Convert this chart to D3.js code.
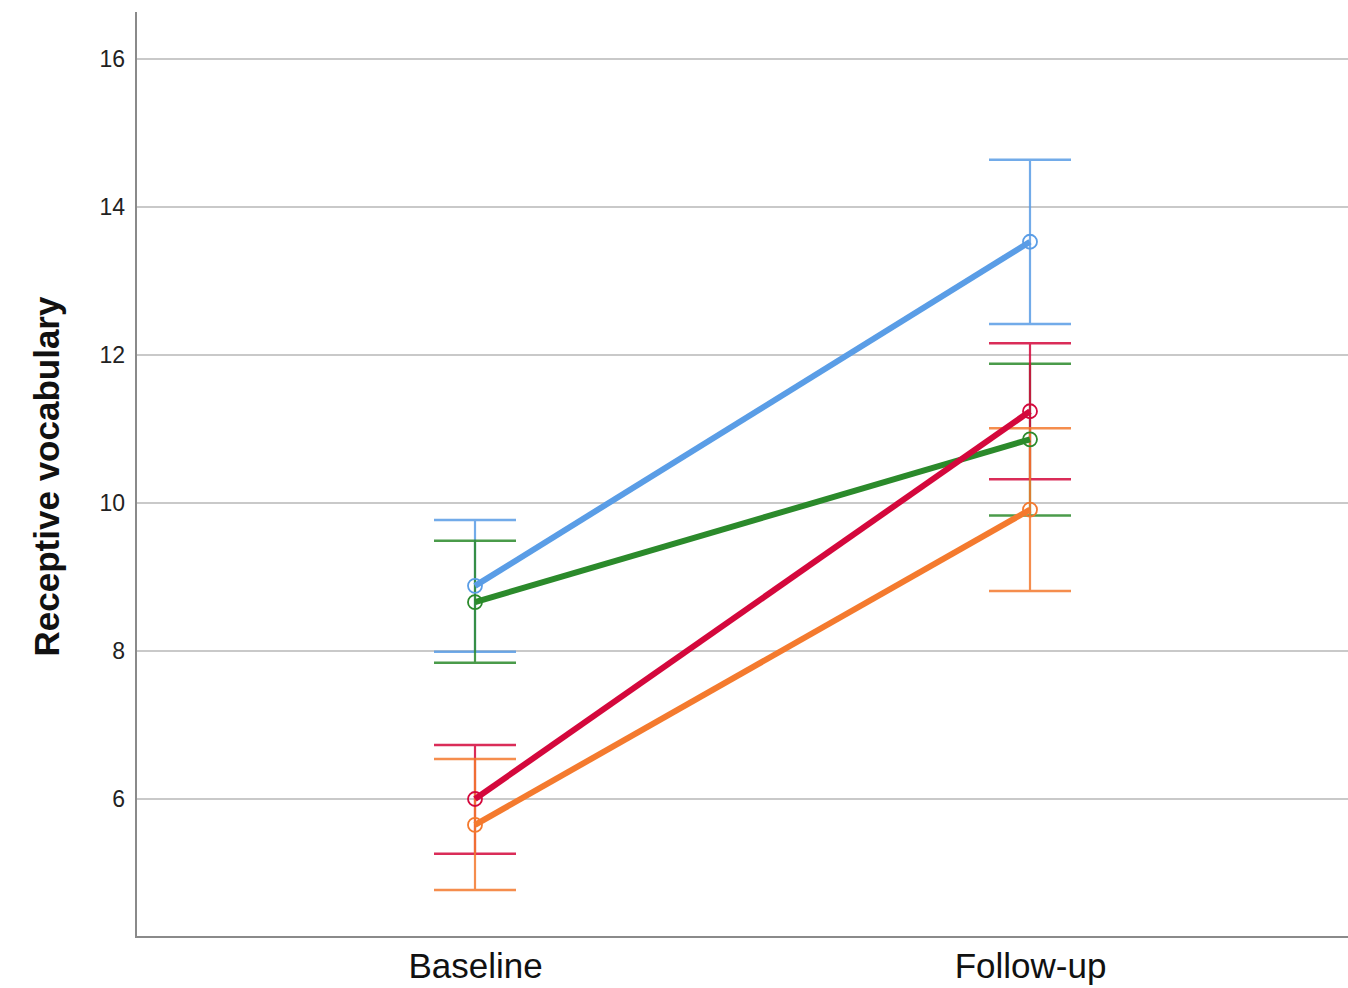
<!DOCTYPE html>
<html>
<head>
<meta charset="utf-8">
<script src="https://cdn.jsdelivr.net/npm/d3@7"></script>
<style>
  html, body { margin: 0; padding: 0; background: #fff; }
  svg { display: block; }
</style>
</head>
<body>
<svg id="chart" width="1348" height="988"></svg>
<script>
// ---- data ----
const timepoints = ["Baseline", "Follow-up"];
const yTicks = [6, 8, 10, 12, 14, 16];
const seriesNames = ["Group 1", "Group 2", "Group 3", "Group 4"];
const seriesColors = ["#5a9de6", "#2b8a2b", "#d4083c", "#f47a2e"];
// means at Baseline, Follow-up
const meanG1 = [8.88, 13.53];
const meanG2 = [8.66, 10.86];
const meanG3 = [6.00, 11.24];
const meanG4 = [5.65, 9.91];
// error bar upper / lower
const upperG1 = [9.77, 14.64];
const lowerG1 = [7.99, 12.42];
const upperG2 = [9.49, 11.88];
const lowerG2 = [7.84, 9.83];
const upperG3 = [6.73, 12.16];
const lowerG3 = [5.26, 10.32];
const upperG4 = [6.54, 11.01];
const lowerG4 = [4.77, 8.81];

const series = [
  { name: seriesNames[0], color: seriesColors[0], mean: meanG1, hi: upperG1, lo: lowerG1 },
  { name: seriesNames[1], color: seriesColors[1], mean: meanG2, hi: upperG2, lo: lowerG2 },
  { name: seriesNames[2], color: seriesColors[2], mean: meanG3, hi: upperG3, lo: lowerG3 },
  { name: seriesNames[3], color: seriesColors[3], mean: meanG4, hi: upperG4, lo: lowerG4 }
];

// ---- layout ----
const svg = d3.select("#chart");
const axisLeft = 136, axisRight = 1348, axisTop = 12, axisBottom = 937;

const y = d3.scaleLinear().domain([4.135, 16.635]).range([axisBottom, axisTop]);
const x = d3.scalePoint().domain(timepoints).range([475, 1030]);

// gridlines
svg.append("g").selectAll("line").data(yTicks).join("line")
  .attr("x1", axisLeft).attr("x2", axisRight)
  .attr("y1", d => y(d)).attr("y2", d => y(d))
  .attr("stroke", "#c9c9c9").attr("stroke-width", 2);

// y axis
const yAxis = svg.append("g")
  .attr("transform", `translate(${axisLeft},0)`)
  .call(d3.axisLeft(y).tickValues(yTicks).tickSize(0).tickPadding(11));
yAxis.select(".domain").remove();
yAxis.selectAll("text")
  .attr("font-family", "'Liberation Sans', Arial, sans-serif")
  .attr("font-size", 23).attr("fill", "#222");

// axis lines
svg.append("line").attr("x1", axisLeft).attr("x2", axisLeft)
  .attr("y1", axisTop).attr("y2", axisBottom)
  .attr("stroke", "#8a8a8a").attr("stroke-width", 2);
svg.append("line").attr("x1", axisLeft - 1).attr("x2", axisRight)
  .attr("y1", axisBottom).attr("y2", axisBottom)
  .attr("stroke", "#8a8a8a").attr("stroke-width", 2);

// x axis labels
const xAxis = svg.append("g")
  .attr("transform", `translate(0,${axisBottom})`)
  .call(d3.axisBottom(x).tickSize(0).tickPadding(16));
xAxis.select(".domain").remove();
xAxis.selectAll("text")
  .attr("font-family", "'Liberation Sans', Arial, sans-serif")
  .attr("font-size", 35).attr("fill", "#111");

// y axis title
svg.append("text")
  .attr("transform", `translate(59,${(290 + 663) / 2}) rotate(-90)`)
  .attr("text-anchor", "middle")
  .attr("font-family", "'Liberation Sans', Arial, sans-serif")
  .attr("font-weight", "bold")
  .attr("font-size", 35).attr("fill", "#111")
  .text("Receptive vocabulary");

const capHalf = 41;

// error bars
series.forEach(s => {
  const g = svg.append("g").attr("opacity", 0.85);
  timepoints.forEach((t, i) => {
    const cx = x(t);
    g.append("line").attr("x1", cx).attr("x2", cx)
      .attr("y1", y(s.hi[i])).attr("y2", y(s.lo[i]))
      .attr("stroke", s.color).attr("stroke-width", 2.2);
    [s.hi[i], s.lo[i]].forEach(v => {
      g.append("line").attr("x1", cx - capHalf).attr("x2", cx + capHalf)
        .attr("y1", y(v)).attr("y2", y(v))
        .attr("stroke", s.color).attr("stroke-width", 2.5);
    });
  });
});

// mean lines
const line = d3.line().x((d, i) => x(timepoints[i])).y(d => y(d));
series.forEach(s => {
  svg.append("path").datum(s.mean)
    .attr("d", line)
    .attr("fill", "none")
    .attr("stroke", s.color).attr("stroke-width", 6)
    .attr("stroke-linecap", "butt");
});

// markers
series.forEach(s => {
  svg.append("g").selectAll("circle").data(s.mean).join("circle")
    .attr("cx", (d, i) => x(timepoints[i]))
    .attr("cy", d => y(d))
    .attr("r", 7)
    .attr("fill", "none")
    .attr("stroke", s.color).attr("stroke-width", 1.8);
});
</script>
</body>
</html>
